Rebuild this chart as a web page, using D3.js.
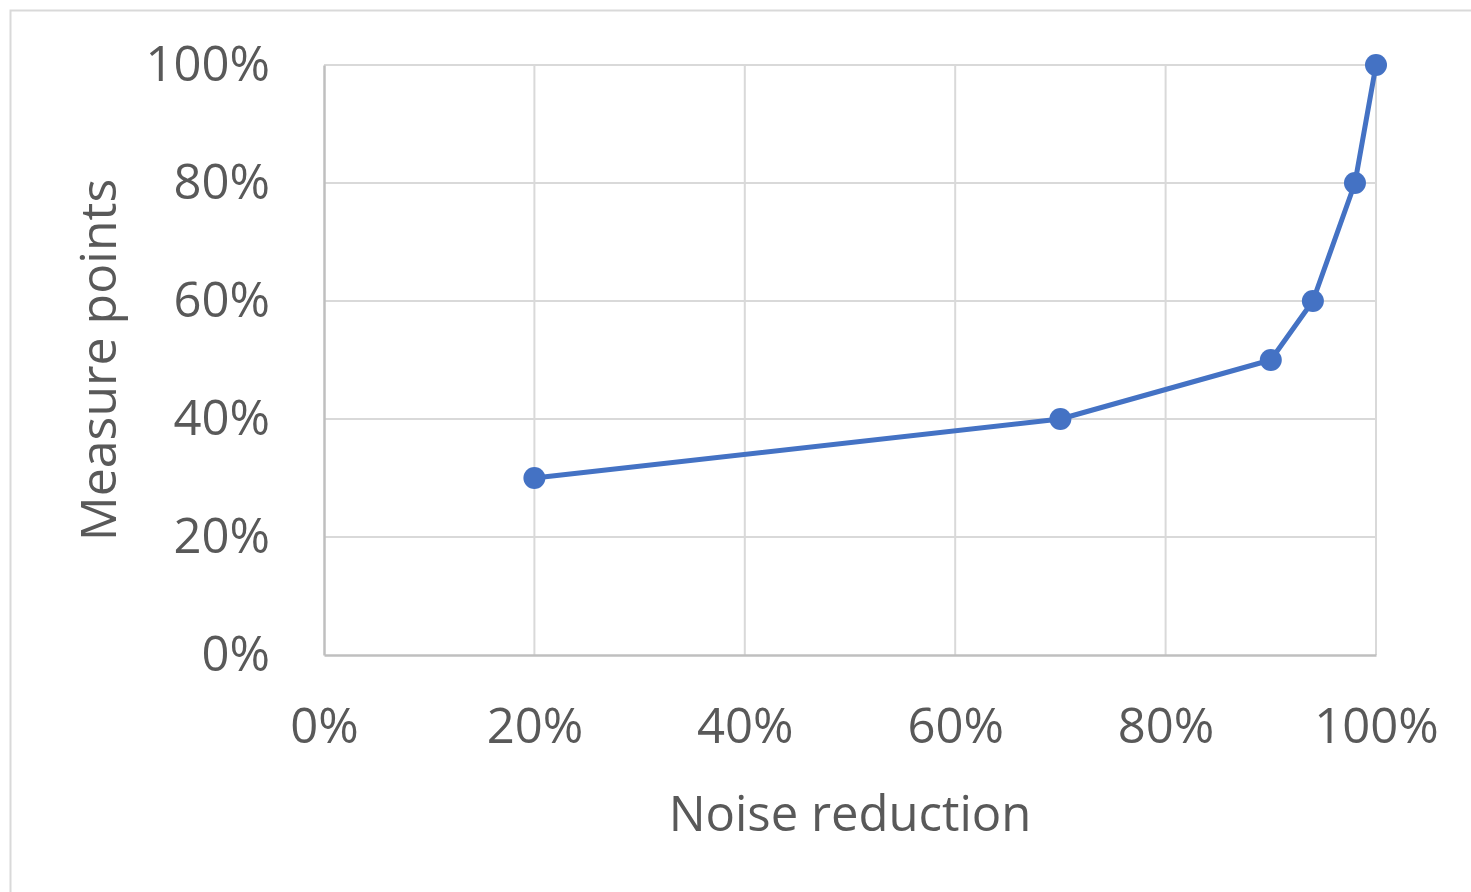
<!DOCTYPE html>
<html><head><meta charset="utf-8">
<script src="https://cdn.jsdelivr.net/npm/d3@7"></script>
<style>html,body{margin:0;padding:0;background:#fff;}svg{display:block;}</style>
</head><body>
<svg id="c" width="1471" height="892"></svg>
<script>
const noiseReduction = [0.20, 0.70, 0.90, 0.94, 0.98, 1.00];
const measurePoints = [0.30, 0.40, 0.50, 0.60, 0.80, 1.00];
const xTicks = [0, 0.2, 0.4, 0.6, 0.8, 1.0];
const yTicks = [0, 0.2, 0.4, 0.6, 0.8, 1.0];
const xTitle = "Noise reduction";
const yTitle = "Measure points";

(function () {
const svg = d3.select("#c");
const font = "'Open Sans', Lato, sans-serif";
const pL = 324, pR = 1376, pT = 65, pB = 655;

svg.append("rect").attr("x", 10.5).attr("y", 10.5).attr("width", 1500).attr("height", 1000)
  .attr("fill", "#fff").attr("stroke", "#d9d9d9").attr("stroke-width", 2);

const x = d3.scaleLinear().domain([0, 1]).range([pL, pR]);
const y = d3.scaleLinear().domain([0, 1]).range([pB, pT]);
const fmt = d3.format(".0%");

svg.append("g").selectAll("line").data(yTicks.filter(d => d > 0)).join("line")
  .attr("x1", pL).attr("x2", pR).attr("y1", d => y(d)).attr("y2", d => y(d))
  .attr("stroke", "#d9d9d9").attr("stroke-width", 2);
svg.append("g").selectAll("line").data(xTicks.filter(d => d > 0)).join("line")
  .attr("y1", pT).attr("y2", pB).attr("x1", d => x(d)).attr("x2", d => x(d))
  .attr("stroke", "#d9d9d9").attr("stroke-width", 2);

const xAxis = svg.append("g").attr("transform", `translate(0,${pB})`)
  .call(d3.axisBottom(x).tickValues(xTicks).tickFormat(fmt).tickSize(0).tickPadding(53));
const yAxis = svg.append("g").attr("transform", `translate(${pL},0)`)
  .call(d3.axisLeft(y).tickValues(yTicks).tickFormat(fmt).tickSize(0).tickPadding(54));
[xAxis, yAxis].forEach(a => {
  a.select(".domain").attr("stroke", "#bfbfbf").attr("stroke-width", 2.5);
  a.selectAll("text").attr("font-family", font).attr("font-size", 49).attr("fill", "#595959");
});

svg.append("text").attr("x", 850).attr("y", 831).attr("text-anchor", "middle")
  .attr("font-family", font).attr("font-size", 49).attr("fill", "#595959").text(xTitle);
svg.append("text").attr("transform", `translate(116,360) rotate(-90)`).attr("text-anchor", "middle")
  .attr("font-family", font).attr("font-size", 50).attr("fill", "#595959").text(yTitle);

const pts = noiseReduction.map((d, i) => [d, measurePoints[i]]);
svg.append("path").datum(pts)
  .attr("d", d3.line().x(d => x(d[0])).y(d => y(d[1])))
  .attr("fill", "none").attr("stroke", "#4472c4").attr("stroke-width", 5).attr("stroke-linejoin", "round");
svg.append("g").selectAll("circle").data(pts).join("circle")
  .attr("cx", d => x(d[0])).attr("cy", d => y(d[1])).attr("r", 11).attr("fill", "#4472c4");
})();
</script>
</body></html>
